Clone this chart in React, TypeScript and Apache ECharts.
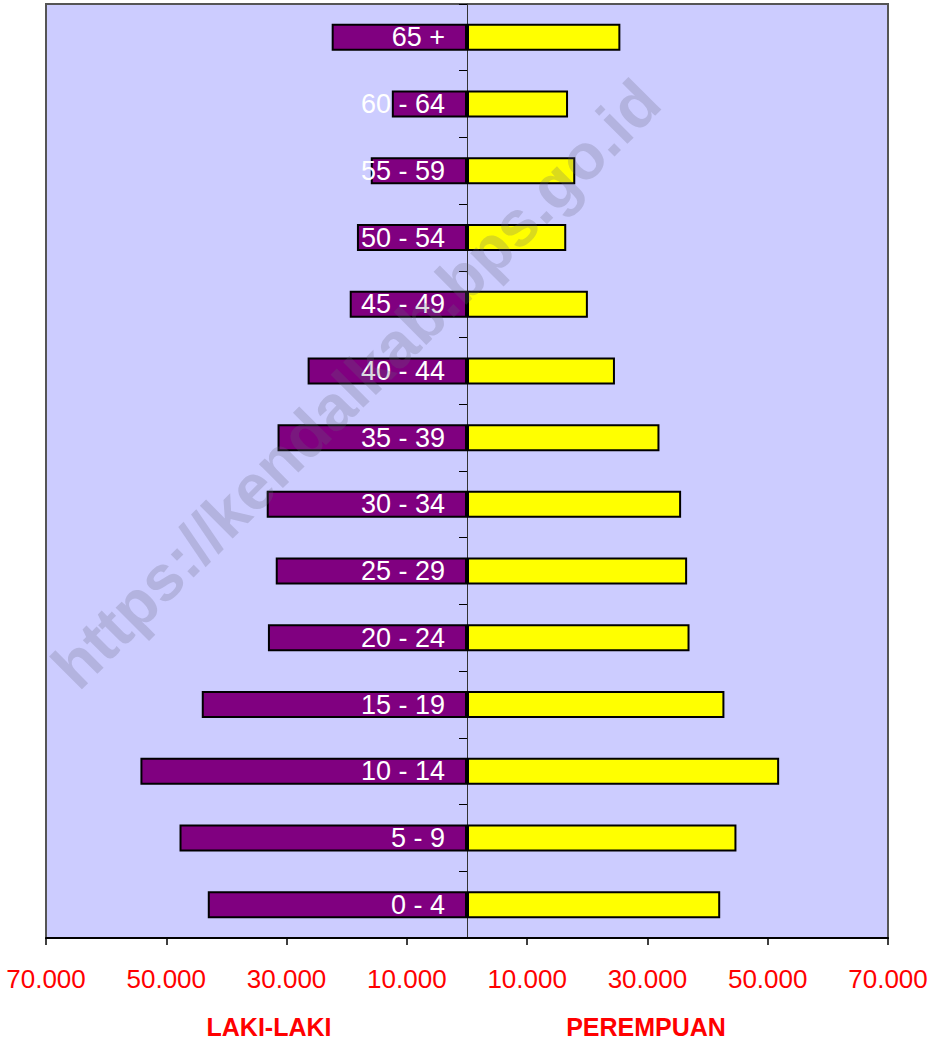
import React, { useEffect, useRef } from "react";
import * as echarts from "echarts";

const ageGroups = ["0 - 4", "5 - 9", "10 - 14", "15 - 19", "20 - 24", "25 - 29", "30 - 34", "35 - 39", "40 - 44", "45 - 49", "50 - 54", "55 - 59", "60 - 64", "65 +"];
const male = [43100, 47800, 54300, 44100, 33100, 31800, 33300, 31500, 26500, 19500, 18300, 16000, 12500, 22500];
const female = [42100, 44800, 51900, 42800, 37000, 36600, 35600, 32000, 24600, 20100, 16500, 18000, 16800, 25500];
const axisMin = -70000;
const axisMax = 70000;
const leftTitle = "LAKI-LAKI";
const rightTitle = "PEREMPUAN";
const watermark = "https://kendalkab.bps.go.id";

const FONT = "'Liberation Sans', Arial, sans-serif";

export default function App() {
  const ref = useRef<HTMLDivElement>(null);
  useEffect(() => {
    if (!ref.current) return;
    const chart = echarts.init(ref.current, null, { renderer: "svg" });
    const fmt = (v: number) => {
      const a = Math.abs(v - axisMax);
      return a === 0 ? "0" : (a / 1000).toFixed(0) + ".000";
    };
    chart.setOption({
      animation: false,
      textStyle: { fontFamily: FONT },
      grid: {
        left: 46,
        right: 52,
        top: 4,
        bottom: 102,
        show: true,
        backgroundColor: "#ccccff",
        borderColor: "#555555",
        borderWidth: 2,
      },
      xAxis: [
        {
          type: "value",
          min: axisMin,
          max: axisMax,
          interval: 10000,
          show: false,
          splitLine: { show: false },
        },
        {
          type: "value",
          position: "bottom",
          min: 0,
          max: axisMax - axisMin,
          interval: 20000,
          axisLine: { show: true, onZero: false, lineStyle: { color: "#000", width: 2 } },
          axisTick: { show: true, length: 7, lineStyle: { color: "#000", width: 1.5 } },
          splitLine: { show: false },
          axisLabel: {
            color: "#ff0000",
            fontSize: 26,
            fontFamily: FONT,
            margin: 28,
            formatter: fmt,
            showMinLabel: true,
            showMaxLabel: true,
          },
        },
      ],
      yAxis: {
        type: "category",
        data: ageGroups,
        axisLine: { show: true, onZero: true, onZeroAxisIndex: 0, lineStyle: { color: "#333", width: 1 } },
        axisTick: { show: true, length: 8, lineStyle: { color: "#000", width: 1 } },
        axisLabel: { show: false },
        splitLine: { show: false },
      },
      series: [
        {
          type: "bar",
          name: "Laki-laki",
          stack: "pop",
          xAxisIndex: 0,
          barWidth: 27,
          data: male.map((v) => -v),
          itemStyle: { color: "#800080", borderColor: "#000", borderWidth: 2 },
          label: {
            show: true,
            position: "insideRight",
            distance: 22,
            color: "#ffffff",
            fontSize: 27,
            fontFamily: FONT,
            formatter: (p: any) => p.name,
          },
          z: 2,
        },
        {
          type: "bar",
          name: "Perempuan",
          stack: "pop",
          xAxisIndex: 0,
          barWidth: 27,
          data: female,
          itemStyle: { color: "#ffff00", borderColor: "#000", borderWidth: 2 },
          z: 2,
        },
      ],
      graphic: [
        {
          type: "text",
          x: 356,
          y: 384,
          rotation: Math.PI / 4,
          z: 100,
          silent: true,
          style: {
            text: watermark,
            font: `bold 64px ${FONT}`,
            fill: "rgba(100,100,120,0.24)",
            textAlign: "center",
            textVerticalAlign: "middle",
          },
        },
        {
          type: "text",
          x: 269,
          y: 1027,
          style: {
            text: leftTitle,
            font: `bold 25px ${FONT}`,
            fill: "#ff0000",
            textAlign: "center",
            textVerticalAlign: "middle",
          },
        },
        {
          type: "text",
          x: 646,
          y: 1027,
          style: {
            text: rightTitle,
            font: `bold 25px ${FONT}`,
            fill: "#ff0000",
            textAlign: "center",
            textVerticalAlign: "middle",
          },
        },
      ],
    });
    return () => chart.dispose();
  }, []);
  return <div ref={ref} style={{ width: 940, height: 1040, position: "absolute", left: 0, top: 0 }} />;
}
